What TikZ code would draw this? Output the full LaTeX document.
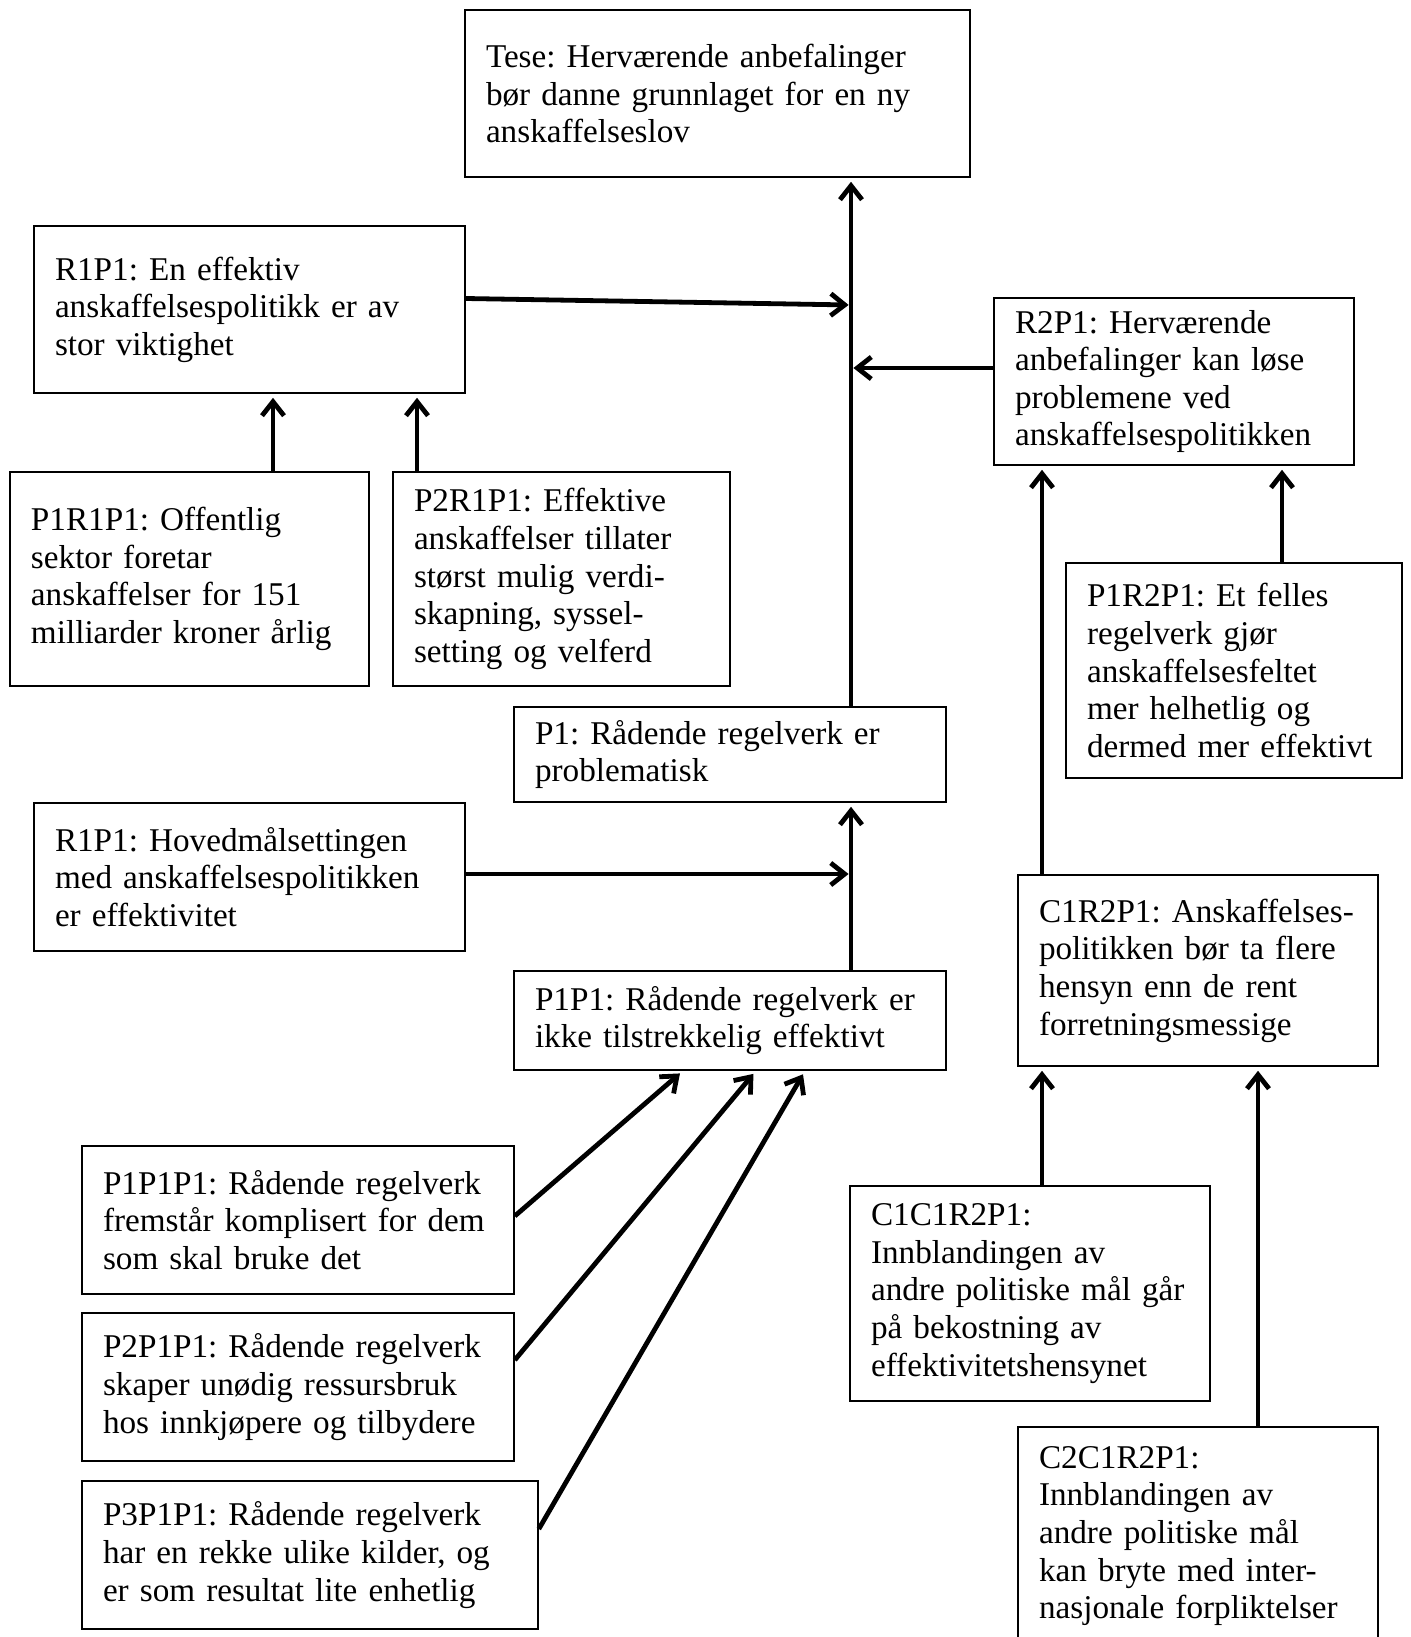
\documentclass[tikz,border=0pt]{standalone}
\usepackage{fontspec}
\setmainfont{Liberation Serif}
\usepackage{tikz}
\usetikzlibrary{positioning, arrows.meta}
\frenchspacing

\begin{document}
\begin{tikzpicture}[x=0.5pt, y=-0.5pt,
    boks/.style={draw, line width=0.8pt, align=left, inner xsep=10.5pt, inner ysep=0pt,
        font=\fontsize{16.6}{18.8}\selectfont},
    pil/.style={line width=2.4pt, -{Straight Barb[length=7pt, width=11pt]}, shorten >=2pt}]
    \useasboundingbox (0,0) rectangle (1410,1637);
    % Kolonner for pilene
    \coordinate (spine) at (851,0);
    \coordinate (colA) at (273,0);
    \coordinate (colB) at (417,0);
    \coordinate (colC) at (1042,0);
    \coordinate (colD) at (1282,0);
    \coordinate (colE) at (1258,0);
    \coordinate (colF) at (683,0);
    \coordinate (colG) at (756,0);
    \coordinate (colH) at (805,0);
    \coordinate (j1) at (851,305);
    \coordinate (j2) at (851,368);
    \coordinate (j3) at (851,874);
        % Boksene
        \node[boks, text width=231.5pt, minimum height=83.5pt] (tese) at (717.5,93.5)
            {Tese: Herværende anbefalinger\\bør danne grunnlaget for en ny\\anskaffelseslov};
        \node[boks, text width=194.5pt, minimum height=83.5pt] (r1p1a) at (249.5,309.5)
            {R1P1: En effektiv\\anskaffelsespolitikk er av\\stor viktighet};
        \node[boks, text width=159pt, minimum height=83.5pt] (r2p1) at (1174,381.5)
            {R2P1: Herværende\\anbefalinger kan løse\\problemene ved\\anskaffelsespolitikken};
        \node[boks, text width=158.5pt, minimum height=107pt] (p1r1p1) at (189.5,579)
            {P1R1P1: Offentlig\\sektor foretar\\anskaffelser for 151\\milliarder kroner årlig};
        \node[boks, text width=147.5pt, minimum height=107pt] (p2r1p1) at (561.5,579)
            {P2R1P1: Effektive\\anskaffelser tillater\\størst mulig verdi-\\skapning, syssel-\\setting og velferd};
        \node[boks, text width=147pt, minimum height=107.5pt] (p1r2p1) at (1234,670.5)
            {P1R2P1: Et felles\\regelverk gjør\\anskaffelsesfeltet\\mer helhetlig og\\dermed mer effektivt};
        \node[boks, text width=195pt, minimum height=47.5pt] (p1) at (730,754.5)
            {P1: Rådende regelverk er\\problematisk};
        \node[boks, text width=194.5pt, minimum height=74pt] (r1p1b) at (249.5,877)
            {R1P1: Hovedmålsettingen\\med anskaffelsespolitikken\\er effektivitet};
        \node[boks, text width=159pt, minimum height=95.5pt] (c1r2p1) at (1198,970.5)
            {C1R2P1: Anskaffelses-\\politikken bør ta flere\\hensyn enn de rent\\forretningsmessige};
        \node[boks, text width=195pt, minimum height=49.5pt] (p1p1) at (730,1020.5)
            {P1P1: Rådende regelverk er\\ikke tilstrekkelig effektivt};
        \node[boks, text width=195pt, minimum height=74pt] (p1p1p1) at (298,1220)
            {P1P1P1: Rådende regelverk\\fremstår komplisert for dem\\som skal bruke det};
        \node[boks, text width=195pt, minimum height=74pt] (p2p1p1) at (298,1387)
            {P2P1P1: Rådende regelverk\\skaper unødig ressursbruk\\hos innkjøpere og tilbydere};
        \node[boks, text width=207pt, minimum height=74pt] (p3p1p1) at (310,1555)
            {P3P1P1: Rådende regelverk\\har en rekke ulike kilder, og\\er som resultat lite enhetlig};
        \node[boks, text width=159pt, minimum height=107.5pt] (c1c1r2p1) at (1030,1293.5)
            {C1C1R2P1:\\Innblandingen av\\andre politiske mål går\\på bekostning av\\effektivitetshensynet};
        \node[boks, text width=159pt, minimum height=109pt] (c2c1r2p1) at (1198,1536)
            {C2C1R2P1:\\Innblandingen av\\andre politiske mål\\kan bryte med inter-\\nasjonale forpliktelser};
        % Pilene
        \draw[pil] (p1.north -| spine) -- (tese.south -| spine);
        \draw[pil, shorten >=1.2pt] ([yshift=5.5pt]r1p1a.east) -- (j1);
        \draw[pil, shorten >=1.2pt] (r2p1.west |- j2) -- (j2);
        \draw[pil] (p1r1p1.north -| colA) -- (r1p1a.south -| colA);
        \draw[pil] (p2r1p1.north -| colB) -- (r1p1a.south -| colB);
        \draw[pil] (p1r2p1.north -| colD) -- (r2p1.south -| colD);
        \draw[pil] (c1r2p1.north -| colC) -- (r2p1.south -| colC);
        \draw[pil] (p1p1.north -| spine) -- (p1.south -| spine);
        \draw[pil, shorten >=1.2pt] (r1p1b.east |- j3) -- (j3);
        \draw[pil] (c1c1r2p1.north -| colC) -- (c1r2p1.south -| colC);
        \draw[pil] (c2c1r2p1.north -| colE) -- (c1r2p1.south -| colE);
        \draw[pil] ([yshift=2pt]p1p1p1.east) -- (p1p1.south -| colF);
        \draw[pil] ([yshift=13.5pt]p2p1p1.east) -- (p1p1.south -| colG);
        \draw[pil] ([yshift=13pt]p3p1p1.east) -- (p1p1.south -| colH);
\end{tikzpicture}
\end{document}
